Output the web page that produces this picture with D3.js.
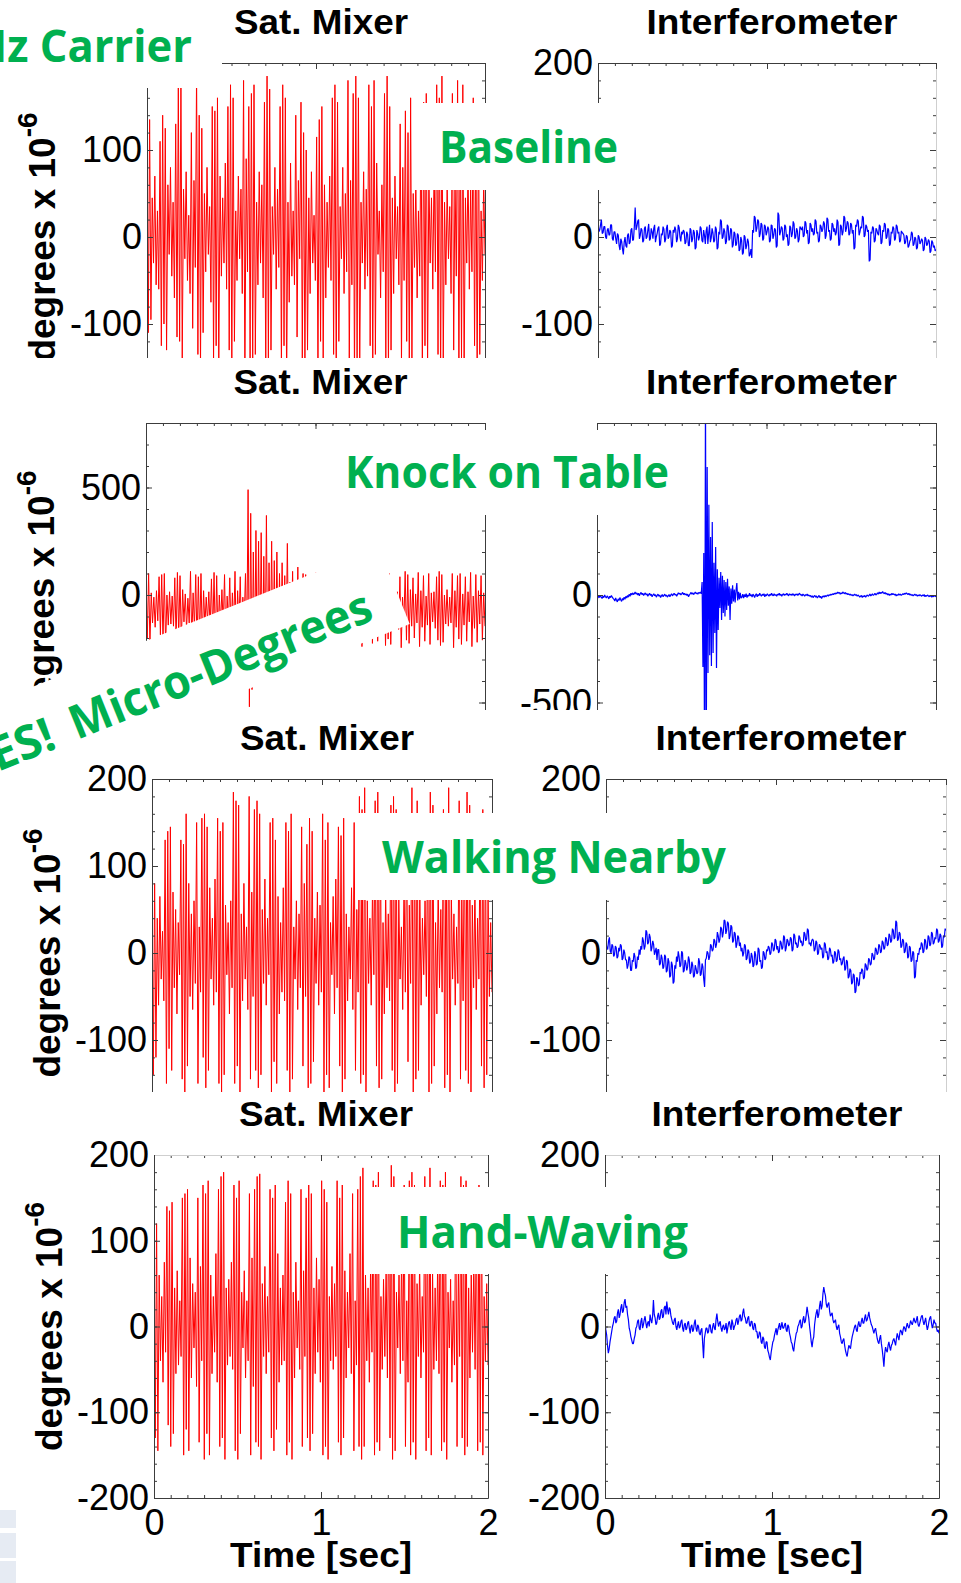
<!DOCTYPE html>
<html>
<head>
<meta charset="utf-8">
<script src="https://cdn.jsdelivr.net/npm/d3@7"></script>
<style>
  body { margin: 0; background: #fff; }
  svg { display: block; }
</style>
</head>
<body>
<svg id="fig" width="961" height="1583"></svg>
<script>
// ---------------------------------------------------------------------------
// Phase records, 2 s each, in micro-degrees (degrees x 10^-6).
// Saturated-mixer records list the successive peak / trough values of the
// fast oscillation; interferometer records are samples every 5 ms.
// ---------------------------------------------------------------------------

const timeTicks = [0, 1, 2];
const microTicks = [-200, -100, 0, 100, 200];
const knockTicks = [-500, 0, 500];

const titles = ["Sat. Mixer", "Interferometer"];
const conditions = ["Baseline", "Knock on Table", "Walking Nearby", "Hand-Waving"];

// --- Baseline ---
const satMixerBaseline = [
  120,-110,135,-95,45,-30,70,-55,30,-60,110,-125,140,-100,125,-130,60,-20,80,-45,
  40,-70,130,-115,180,-120,185,-140,55,-25,75,-50,25,-65,120,-105,65,-35,190,-135,
  140,-150,125,-110,50,-40,80,-20,35,-75,150,-145,145,-125,160,-155,70,-45,45,-30,
  85,-60,150,-130,175,-160,160,-120,30,-50,70,-25,55,-65,180,-170,90,-40,150,-140,
  165,-150,175,-135,40,-55,75,-30,60,-70,155,-165,185,-145,170,-130,35,-20,80,-60,
  55,-35,150,-155,175,-125,160,-170,40,-75,85,-45,30,-55,140,-115,65,-25,155,-140,
  120,-150,100,-130,45,-65,75,-30,25,-50,115,-160,135,-120,150,-145,60,-70,40,-35,
  70,-50,160,-135,175,-165,155,-120,35,-25,80,-65,50,-40,180,-150,65,-55,165,-170,
  185,-140,160,-155,40,-30,75,-60,55,-45,175,-125,150,-165,180,-135,85,-20,30,-70,
  60,-40,165,-150,185,-160,150,-130,45,-65,70,-25,35,-55,130,-145,80,-50,145,-120,
  120,-155,160,-140,50,-35,65,-70,30,-45,145,-165,155,-125,165,-150,75,-30,45,-60,
  85,-40,175,-135,160,-170,185,-145,40,-55,60,-25,35,-65,165,-130,70,-45,180,-160,
  150,-140,175,-155,45,-30,80,-60,55,-40,160,-125,140,-165,150,-135,30,-50,65,-20];
const interfBaseline = [
  16,6,8,14,20,4,5,12,12,0,-2,8,10,2,3,14,14,-2,-4,6,
  6,-2,-8,4,2,-10,-15,-2,-5,-14,-20,-6,0,-10,-12,2,4,-8,-6,8,
  10,-4,-3,12,34,8,12,18,20,-2,2,10,8,-6,-4,10,12,-2,0,8,
  15,-4,-2,10,6,-2,10,14,-6,0,4,10,12,-10,-8,4,2,12,9,-6,
  -3,10,14,-2,0,8,6,-12,-10,8,5,12,8,-6,-2,14,11,0,-5,6,
  3,8,6,-8,-6,6,3,-10,-10,10,8,-6,-2,8,5,-14,-12,8,4,-4,
  0,12,10,-4,-6,8,2,-8,7,12,-8,4,14,-6,-1,10,5,-6,-4,12,
  9,-14,-12,6,3,20,18,-2,0,10,6,-8,-5,14,12,-4,-2,10,8,-12,
  -9,6,4,-10,-8,4,2,-16,-14,0,-4,-20,-18,2,0,-14,-10,-2,-6,-22,
  -20,-14,-24,8,5,24,22,6,10,20,18,0,4,16,14,-4,-2,14,12,2,
  6,12,9,-6,-4,14,13,-2,2,10,8,-12,-10,28,25,2,6,12,10,-4,
  -2,14,12,0,3,-10,-8,13,11,0,4,18,15,-2,0,10,7,-6,-3,12,
  10,8,12,0,2,18,16,4,8,-8,-6,16,14,6,10,2,4,20,18,4,
  6,-6,-4,14,12,6,9,18,15,-2,2,22,20,6,8,-4,-2,16,14,6,
  10,2,5,20,17,-10,-8,14,12,2,6,24,22,6,10,18,16,2,4,16,
  14,4,8,-14,-12,14,12,20,18,2,6,12,10,24,22,0,2,14,12,6,
  8,-28,-26,6,4,12,10,-6,-4,10,8,4,2,14,12,-8,-6,8,6,16,
  14,-2,0,10,8,-10,-8,6,4,12,10,-4,-2,14,12,4,6,-6,-4,7,
  5,4,2,-8,-6,2,0,-12,-10,-5,-3,6,4,-10,-8,0,-2,-14,-12,2,
  0,-8,-6,-2,-4,-16,-14,0,-2,-10,-8,-3,-5,-18,-16,-4,-6,-12,-10,-16,
  -14];

// --- Knock on table ---
const satMixerKnock = [
  90,-200,100,-230,10,-130,-10,-150,20,-120,85,-185,95,-225,100,-240,0,-140,15,-135,
  -5,-145,80,-210,105,-195,90,-230,25,-125,5,-160,-15,-130,110,-215,10,-150,95,-245,
  85,-205,100,-225,20,-140,-10,-125,15,-155,75,-190,105,-235,90,-215,0,-135,25,-145,
  95,-230,-5,-130,80,-200,10,-150,110,-240,20,-140,85,-210,-10,-125,100,-225,490,-520,
  380,-440,200,-300,300,-380,250,-360,290,-400,180,-320,370,-360,150,-280,250,-330,160,-300,
  200,-300,100,-260,150,-270,90,-240,240,-280,60,-200,110,-230,30,-160,130,-250,40,-150,
  100,-220,95,-235,10,-140,20,-130,-5,-155,105,-210,90,-240,110,-200,15,-125,5,-145,
  25,-135,85,-225,100,-215,95,-245,-10,-150,10,-130,20,-160,80,-205,0,-140,105,-230,
  90,-210,15,-125,110,-240,-5,-145,85,-195,25,-135,100,-225,5,-155,95,-215,-15,-130,
  10,-150,105,-235,90,-205,100,-230,20,-140,0,-125,15,-160,85,-245,-10,-135,110,-210,
  95,-225,25,-145,80,-200,5,-130,105,-240,20,-150,90,-215,-5,-140,100,-230,10,-125,
  15,-155,85,-210,110,-235,95,-220,0,-135,25,-145,-10,-130,100,-245,20,-150,90,-205,
  100,-230,5,-140,85,-215,15,-125,105,-240,-5,-155,95,-220,20,-135,90,-210,10,-145];
const interfKnock = [
  -8,-14,-4,-12,-2,-10,-16,-6,-12,0,-8,-14,-4,-10,-18,-6,-12,-2,-10,-16,
  -20,-28,-14,-24,-32,-18,-26,-12,-22,-30,-16,-24,-10,-20,-6,-14,-2,-10,4,-6,
  8,0,10,2,6,14,4,10,0,8,-4,6,12,2,8,-2,4,10,0,6,
  -6,2,8,-2,4,-8,0,6,-4,2,-10,-2,4,-6,0,-12,-4,2,-8,-2,
  4,-6,0,-10,-4,2,-8,0,6,-4,2,8,0,4,-6,2,10,4,8,0,
  6,12,2,8,0,6,-2,4,-8,0,6,12,4,10,2,8,14,6,10,4,
  12,8,14,6,60,-335,195,-900,950,-700,595,-363,420,-280,270,-330,340,-270,150,-177,
  223,-340,120,-163,80,-60,107,-116,90,-84,70,-100,60,-70,75,-50,40,-116,30,-40,
  45,-30,25,-35,20,56,-25,15,-20,10,-15,-10,4,-14,2,-8,6,-12,0,-6,
  8,-4,2,-10,4,-2,-12,0,6,-8,2,-4,8,0,-6,4,-2,6,-8,2,
  -4,6,0,-6,4,-2,8,0,-4,6,-2,2,-6,4,0,8,-2,4,-6,2,
  6,-2,4,0,8,2,-4,6,0,4,-2,6,2,-4,4,0,6,-2,4,8,
  0,2,-4,4,0,-6,2,-2,4,-4,0,-6,-2,-10,-4,-12,-6,-2,-10,-4,
  -14,-8,-2,-12,-6,-16,-8,-4,-10,-2,-8,-4,0,-6,2,-2,4,0,6,2,
  8,4,10,6,14,8,12,4,10,6,14,10,6,12,4,8,2,6,0,4,
  -2,2,-4,0,4,-2,2,-6,0,-4,-10,-6,-2,-12,-4,-8,-2,-10,-4,0,
  -6,-2,4,-4,0,6,-2,2,8,0,4,10,4,14,6,12,8,16,10,6,
  12,4,8,0,6,-2,4,0,8,2,6,0,4,-4,2,-2,6,0,4,-2,
  2,6,2,8,4,10,6,2,8,0,4,-2,2,-4,0,4,-2,2,-6,0,
  -4,2,-2,-6,0,-4,2,-8,-2,-6,0,-4,-8,-2,-6,-10,-4,-8,-2,-6,
  -8];

// --- Walking nearby ---
const satMixerWalking = [
  90,-140,80,-120,40,-60,65,-30,25,-55,130,-150,140,-110,145,-135,70,-40,50,-70,
  35,-25,130,-145,125,-160,160,-130,80,-50,45,-65,60,-35,150,-150,30,-45,155,-120,
  160,-155,145,-135,75,-30,40,-60,85,-45,155,-150,140,-165,150,-140,55,-25,35,-70,
  60,-40,185,-150,175,-130,170,-160,45,-55,80,-30,30,-65,180,-145,70,-50,165,-135,
  175,-155,160,-140,50,-35,85,-60,40,-25,150,-165,155,-125,130,-150,65,-70,35,-45,
  75,-55,150,-135,140,-160,160,-145,30,-30,60,-65,45,-40,145,-130,80,-50,125,-155,
  155,-150,140,-125,40,-35,70,-60,55,-45,160,-165,130,-140,150,-155,35,-25,65,-70,
  85,-40,145,-130,135,-160,155,-145,45,-55,30,-30,75,-65,150,-135,50,-45,180,-150,
  165,-140,190,-165,60,-35,40,-60,80,-25,175,-130,185,-155,160,-145,35,-70,70,-40,
  45,-55,170,-135,180,-160,165,-150,65,-30,30,-65,85,-45,155,-125,55,-35,190,-165,
  160,-145,175,-135,75,-60,40,-25,60,-50,150,-160,185,-150,170,-130,35,-70,80,-40,
  50,-45,165,-155,155,-140,190,-165,70,-30,45,-60,30,-35,175,-145,65,-55,160,-135,
  185,-150,170,-160,55,-40,80,-65,40,-30,150,-130,165,-155,155,-140,70,-50,35,-45];
const interfWalking = [
  12,6,4,14,18,2,0,10,8,-4,-2,8,6,-6,-4,6,2,10,8,-8,
  -6,4,0,-8,-8,-18,-14,-4,-6,-20,-20,-8,-10,0,-4,-18,-16,-4,-8,4,
  -2,8,4,18,14,4,8,26,24,10,12,22,18,2,6,14,10,-2,2,6,
  -8,4,4,-14,-12,-2,-6,-18,-16,-2,-4,-22,-20,-6,-10,-28,-26,-10,-14,-35,
  -33,-14,-18,-4,-10,2,-4,-16,-14,2,0,-22,-20,-8,-12,-20,-16,-4,-8,-24,
  -22,-10,-14,-28,-26,-14,-18,-24,-22,-6,-10,-26,-24,-12,-16,-30,-39,-8,-6,2,
  0,-8,-4,10,8,2,4,16,14,6,10,24,20,12,16,30,28,18,24,38,
  37,22,26,36,34,16,20,32,30,12,14,24,22,6,10,20,18,8,12,2,
  6,-4,0,10,8,-8,-6,4,2,-12,-10,0,-4,-16,-14,2,-2,-14,-12,6,
  4,-10,-8,-18,-16,2,0,-8,-6,4,2,8,6,-2,0,12,10,2,4,16,
  14,4,8,0,2,14,12,4,6,20,18,2,6,16,14,8,10,18,16,2,
  4,22,20,10,12,6,8,20,18,12,14,8,10,24,22,14,16,28,26,10,
  12,8,14,16,14,2,4,14,12,-2,0,10,8,4,6,-6,-4,12,10,0,
  2,-8,-6,6,4,-4,-2,-12,-10,2,0,-10,-8,4,2,-8,-6,-14,-12,-6,
  -4,-20,-18,-8,-10,-29,-27,-18,-20,-36,-34,-24,-26,-46,-44,-28,-30,-38,-36,-22,
  -24,-18,-20,-30,-28,-12,-14,-20,-18,-6,-8,-14,-12,0,-2,-8,-6,6,4,-2,
  0,10,8,0,2,14,12,4,6,18,16,8,10,22,20,12,14,28,26,16,
  18,37,35,14,16,24,22,6,8,16,14,0,2,12,10,-6,-4,8,6,-10,
  -8,2,0,-29,-27,-8,-10,0,-2,6,4,12,10,0,2,16,14,4,6,20,
  18,8,10,24,22,10,12,18,16,28,26,12,14,22,20,6,8,20,18,28,
  26];

// --- Hand-waving ---
const satMixerWaving = [
  150,-130,120,-145,60,-40,35,-65,75,-30,140,-115,135,-140,145,-125,45,-55,65,-45,
  30,-35,150,-150,155,-120,160,-145,80,-60,50,-25,40,-70,150,-135,70,-40,165,-155,
  155,-125,170,-150,60,-55,35,-30,85,-65,160,-140,175,-130,180,-155,45,-45,55,-35,
  75,-50,165,-145,150,-155,170,-125,40,-25,65,-60,30,-40,155,-150,80,-70,160,-135,
  175,-140,178,-155,50,-35,70,-55,35,-30,160,-130,150,-145,165,-120,85,-65,45,-45,
  60,-40,145,-150,170,-135,155,-155,40,-60,75,-25,30,-50,160,-140,65,-35,150,-130,
  165,-145,155,-125,45,-55,80,-30,55,-65,170,-150,160,-140,145,-155,35,-40,70,-50,
  50,-35,170,-135,150,-150,165,-130,65,-60,40,-25,85,-55,155,-145,30,-45,160,-140,
  175,-155,185,-140,60,-40,45,-65,75,-30,170,-150,165,-135,180,-145,35,-50,55,-35,
  70,-60,160,-130,188,-155,175,-145,40,-25,60,-55,85,-40,165,-140,30,-65,170,-150,
  180,-135,165,-155,50,-35,75,-60,35,-30,175,-145,160,-130,185,-150,65,-50,45,-40,
  80,-55,170,-145,165,-135,180,-155,40,-25,55,-65,30,-45,160,-140,70,-35,175,-130,
  165,-150,170,-140,45,-60,60,-30,75,-50,155,-145,165,-135,160,-150,35,-40,50,-45];
const interfWaving = [
  5,-4,-10,-22,-31,-26,-18,-12,-6,0,4,10,12,4,6,16,20,10,14,22,
  26,16,18,28,32,22,24,14,8,-2,-6,-12,-16,-20,-20,-14,-10,-2,0,6,
  8,-2,-4,6,10,-2,2,8,12,4,-2,4,6,0,14,8,4,12,31,14,
  10,2,4,12,16,8,10,18,20,10,12,22,24,14,29,20,14,22,20,12,
  8,4,2,8,10,0,-4,2,6,-2,0,6,8,-2,-6,2,4,-4,-2,4,
  6,-2,-8,0,2,-6,-4,4,8,-2,-6,2,0,-8,-10,-4,-2,-20,-37,-14,
  -8,-2,-2,-8,-6,2,2,-6,-8,0,4,-2,-4,8,15,6,0,4,6,-2,
  -6,0,2,-4,-2,4,-8,-2,4,6,0,-4,8,4,-4,0,2,8,10,2,
  6,12,14,6,8,16,21,12,10,4,4,10,12,2,0,6,6,-2,-4,4,
  2,-6,-6,-14,-12,-6,-8,-18,-20,-12,-14,-24,-26,-18,-18,-28,-31,-36,-39,-30,
  -24,-18,-16,-10,-6,-2,-10,-4,0,4,-4,0,5,-2,-2,2,4,-4,-6,2,
  0,-8,-12,-18,-20,-26,-29,-20,-14,-8,-6,0,2,6,8,-2,0,8,12,4,
  6,14,23,16,10,0,-8,-18,-24,-16,-12,2,10,16,20,10,14,24,30,20,
  24,38,46,40,36,26,22,26,28,18,12,14,16,8,4,6,8,0,-4,0,
  2,-8,-12,-18,-20,-16,-14,-22,-28,-32,-35,-28,-22,-24,-26,-18,-12,-8,-4,0,
  2,-4,-6,2,6,0,0,6,10,4,4,10,14,6,8,12,17,10,6,2,
  0,-4,-8,-4,-2,-8,-14,-18,-20,-14,-10,-20,-27,-36,-47,-32,-24,-28,-30,-22,
  -18,-24,-28,-22,-20,-16,-14,-18,-22,-14,-8,-12,-16,-8,-4,-6,-10,-4,0,-2,
  -6,0,4,0,-2,2,7,4,2,6,10,6,4,8,12,2,0,4,8,12,
  13,6,2,6,10,2,-4,0,6,10,12,4,-2,2,8,4,4,-2,-6,-4,
  -8];

// ---------------------------------------------------------------------------
// Layout of the four rows of panels.  Each row is pasted over the bottom of
// the row above it (bgTop); tick labels sitting under a call-out box are
// listed in "covered".
// ---------------------------------------------------------------------------
const rows = [
  { bgTop: 0,    top: 63,   bottom: 411,  yDomain: [-200, 200], yTicks: microTicks, yMinor: 20,
    left: [147, 485], right: [598, 936], mixer: satMixerBaseline, interf: interfBaseline,
    faintRightEdge: true, covered: { mixer: [200], interf: [100] } },
  { bgTop: 358,  top: 423,  bottom: 767,  yDomain: [-800, 800], yTicks: knockTicks, yMinor: 100,
    left: [146, 485], right: [597, 936], mixer: satMixerKnock, interf: interfKnock,
    covered: { mixer: [], interf: [500] } },
  { bgTop: 710,  top: 779,  bottom: 1127, yDomain: [-200, 200], yTicks: microTicks, yMinor: 20,
    left: [152, 492], right: [606, 946], mixer: satMixerWalking, interf: interfWalking,
    faintRightEdge: true, covered: { mixer: [], interf: [100] } },
  { bgTop: 1092, top: 1155, bottom: 1498, yDomain: [-200, 200], yTicks: microTicks, yMinor: 20,
    left: [154, 488], right: [605, 939], mixer: satMixerWaving, interf: interfWaving,
    timeAxis: true, faintTopEdge: true, covered: { mixer: [], interf: [100] } }
];
rows.forEach((r, i) => { r.visibleBottom = i < rows.length - 1 ? rows[i + 1].bgTop : 1583; });

const AXIS = "#3c3c3c";
const FAINT = "#cfcfcf";
const SANS = "'Liberation Sans', Arial, Helvetica, sans-serif";
const GREEN = "#00B050";
const LABEL_FONT = "'Open Sans', 'Noto Sans', sans-serif";

const svg = d3.select("#fig");
const defs = svg.append("defs");

function styleAxis(g, withText) {
  g.select(".domain").attr("stroke", AXIS).attr("stroke-width", 1);
  g.selectAll(".tick line").attr("stroke", AXIS).attr("stroke-width", 1);
  if (withText) {
    g.selectAll(".tick text")
      .attr("font-family", SANS)
      .attr("font-size", 36)
      .attr("fill", "#000");
  }
}

function frameAxes(g, x, y, cfg, kind) {
  const [x0, x1] = x.range();
  const yMinorVals = d3.range(cfg.yDomain[0], cfg.yDomain[1] + 0.001, cfg.yMinor);
  const xMinorVals = d3.range(0, 2.0001, 0.1);
  const labelX = !!cfg.timeAxis;

  // minor ticks on all four sides, pointing inwards
  const minor = [
    [d3.axisLeft(y).tickValues(yMinorVals), `translate(${x0},0)`],
    [d3.axisRight(y).tickValues(yMinorVals), `translate(${x1},0)`],
    [d3.axisTop(x).tickValues(xMinorVals), `translate(0,${cfg.top})`],
    [d3.axisBottom(x).tickValues(xMinorVals), `translate(0,${cfg.bottom})`]
  ];
  minor.forEach(([ax, tr]) => {
    const m = g.append("g").attr("transform", tr)
      .call(ax.tickSize(-3).tickSizeOuter(0).tickFormat(() => ""));
    m.select(".domain").remove();
    styleAxis(m, false);
  });

  // major ticks and the box
  const covered = cfg.covered[kind];
  const left = g.append("g").attr("transform", `translate(${x0},0)`)
    .call(d3.axisLeft(y).tickValues(cfg.yTicks).tickSize(-6).tickSizeOuter(0).tickPadding(5)
      .tickFormat(d => (d < 0 ? "-" + Math.abs(d) : String(d))));
  styleAxis(left, true);
  // drop labels that end up beneath a call-out box or below the row's visible strip
  left.selectAll(".tick text")
    .filter(d => covered.includes(d) || y(d) > cfg.visibleBottom - 4)
    .remove();

  const right = g.append("g").attr("transform", `translate(${x1},0)`)
    .call(d3.axisRight(y).tickValues(cfg.yTicks).tickSize(-6).tickSizeOuter(0).tickFormat(() => ""));
  styleAxis(right, false);
  if (cfg.faintRightEdge && kind === "interf") right.select(".domain").attr("stroke", FAINT);

  const top = g.append("g").attr("transform", `translate(0,${cfg.top})`)
    .call(d3.axisTop(x).tickValues(timeTicks).tickSize(-6).tickSizeOuter(0).tickFormat(() => ""));
  styleAxis(top, false);
  if (cfg.faintTopEdge) top.select(".domain").attr("stroke", FAINT);

  const bottom = g.append("g").attr("transform", `translate(0,${cfg.bottom})`)
    .call(d3.axisBottom(x).tickValues(timeTicks).tickSize(-6).tickSizeOuter(0).tickPadding(11)
      .tickFormat(labelX ? d3.format("d") : () => ""));
  styleAxis(bottom, true);
}

function drawPanel(g, cfg, xr, kind, idx) {
  const x = d3.scaleLinear().domain([0, 2]).range(xr);
  const y = d3.scaleLinear().domain(cfg.yDomain).range([cfg.bottom, cfg.top]);

  const clipId = `clip-${idx}-${kind}`;
  defs.append("clipPath").attr("id", clipId).append("rect")
    .attr("x", xr[0]).attr("y", cfg.top)
    .attr("width", xr[1] - xr[0]).attr("height", cfg.bottom - cfg.top);

  const series = kind === "mixer" ? cfg.mixer : cfg.interf;
  const n = series.length;
  const pts = series.map((v, i) => [2 * i / (n - 1), v]);

  const line = d3.line().x(d => x(d[0])).y(d => y(d[1]));
  g.append("path")
    .attr("clip-path", `url(#${clipId})`)
    .attr("d", line(pts))
    .attr("fill", "none")
    .attr("stroke", kind === "mixer" ? "#ff0000" : "#0000ff")
    .attr("stroke-width", kind === "mixer" ? 1 : 1.2)
    .attr("stroke-linejoin", "bevel");

  frameAxes(g, x, y, cfg, kind);

  // panel title
  g.append("text")
    .attr("x", (xr[0] + xr[1]) / 2 + 5)
    .attr("y", cfg.top - 29)
    .attr("text-anchor", "middle")
    .attr("font-family", SANS).attr("font-weight", "bold").attr("font-size", 35)
    .attr("textLength", kind === "mixer" ? 174 : 251)
    .attr("lengthAdjust", "spacingAndGlyphs")
    .text(kind === "mixer" ? titles[0] : titles[1]);

  if (kind === "mixer") {
    const lab = g.append("text")
      .attr("transform", `translate(${xr[0] - 92},${y(0)}) rotate(-90)`)
      .attr("text-anchor", "middle")
      .attr("font-family", SANS).attr("font-weight", "bold").attr("font-size", 37)
      .attr("fill", "#000");
    lab.append("tspan").text("degrees x 10");
    lab.append("tspan").attr("dy", -18).attr("font-size", 28).text("-6");
  }

  if (cfg.timeAxis) {
    g.append("text")
      .attr("x", (xr[0] + xr[1]) / 2)
      .attr("y", 1567)
      .attr("text-anchor", "middle")
      .attr("font-family", SANS).attr("font-weight", "bold").attr("font-size", 35)
      .attr("textLength", 182).attr("lengthAdjust", "spacingAndGlyphs")
      .text("Time [sec]");
  }
}

rows.forEach((cfg, i) => {
  const g = svg.append("g");
  g.append("rect").attr("x", 0).attr("y", cfg.bgTop).attr("width", 961).attr("height", 1583 - cfg.bgTop)
    .attr("fill", "#fff");
  drawPanel(g, cfg, cfg.left, "mixer", i);
  drawPanel(g, cfg, cfg.right, "interf", i);
});

// ---------------------------------------------------------------------------
// Slide call-outs on white text boxes
// ---------------------------------------------------------------------------
const over = svg.append("g");

// pale strip at the lower-left corner of the slide
[[1510, 18], [1533, 25], [1561, 22]].forEach(([yy, hh]) => {
  over.append("rect").attr("x", 0).attr("y", yy).attr("width", 16).attr("height", hh).attr("fill", "#e6ebf3");
});

const boxes = [
  { x: 0,   y: 0,    w: 222, h: 88 },
  { x: 413, y: 103,  w: 217, h: 87 },
  { x: 320, y: 430,  w: 370, h: 85 },
  { x: 355, y: 813,  w: 385, h: 87 },
  { x: 370, y: 1187, w: 330, h: 87 }
];
boxes.forEach(b => over.append("rect").attr("x", b.x).attr("y", b.y)
  .attr("width", b.w).attr("height", b.h).attr("fill", "#fff"));

function callout(text, x, y, len) {
  over.append("text")
    .attr("x", x).attr("y", y)
    .attr("font-family", LABEL_FONT).attr("font-weight", 700).attr("font-size", 44)
    .attr("fill", GREEN)
    .attr("textLength", len).attr("lengthAdjust", "spacingAndGlyphs")
    .text(text);
}
callout("Hz Carrier", -26, 62, 218);
callout(conditions[0], 439, 163, 179);
callout(conditions[1], 345, 488, 324);
callout(conditions[2], 382, 873, 344);
callout(conditions[3], 397, 1248, 291);

// tilted banner
const banner = over.append("g").attr("transform", "translate(77,740) rotate(-22)");
banner.append("rect").attr("x", -300).attr("y", -66).attr("width", 652).attr("height", 83).attr("fill", "#fff");
banner.append("text").attr("x", -20).attr("y", 0).attr("text-anchor", "end")
  .attr("font-family", LABEL_FONT).attr("font-weight", 700).attr("font-size", 47).attr("fill", GREEN)
  .text("YES!");
banner.append("text").attr("x", 0).attr("y", 0)
  .attr("font-family", LABEL_FONT).attr("font-weight", 700).attr("font-size", 47).attr("fill", GREEN)
  .attr("textLength", 322).attr("lengthAdjust", "spacingAndGlyphs")
  .text("Micro-Degrees");
</script>
</body>
</html>
